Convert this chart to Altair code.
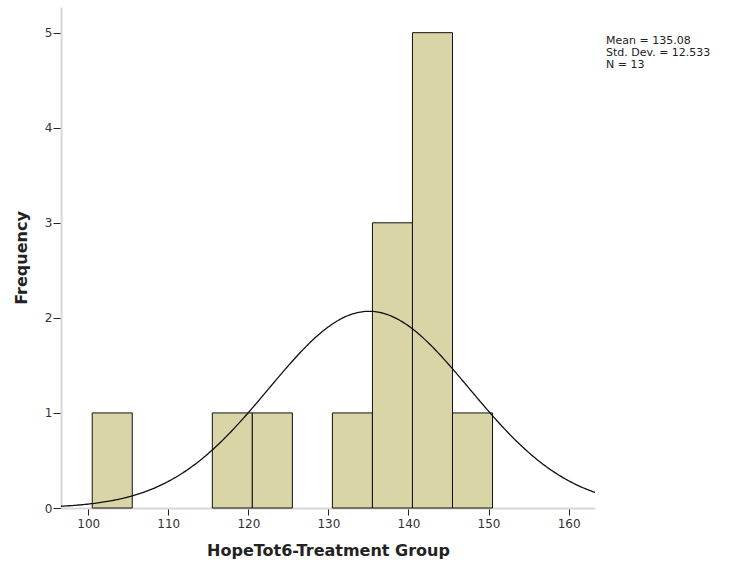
import altair as alt
import pandas as pd

# Histogram bins (start of each 5-unit bin) and their frequencies
bin_starts = [100.5, 115.5, 120.5, 130.5, 135.5, 140.5, 145.5]
counts = [1, 1, 1, 1, 3, 5, 1]
bin_width = 5

# Summary statistics of the sample
mean = 135.08
std_dev = 12.533
n = 13

x_ticks = [100, 110, 120, 130, 140, 150, 160]
y_ticks = [0, 1, 2, 3, 4, 5]
x_domain = [96.6, 163.3]
y_domain = [0, 5.27]

bars_df = pd.DataFrame({"start": bin_starts, "count": counts})
bars_df["end"] = bars_df["start"] + bin_width

FONT = "DejaVu Sans"

x_scale = alt.Scale(domain=x_domain, nice=False, zero=False)
y_scale = alt.Scale(domain=y_domain, nice=False)

bars = alt.Chart(bars_df).mark_rect(
    fill="#D9D5A7", stroke="#111111", strokeWidth=1
).encode(
    x=alt.X(
        "start:Q",
        scale=x_scale,
        axis=alt.Axis(
            values=x_ticks,
            title="HopeTot6-Treatment Group",
            titleFont=FONT,
            titleFontSize=16,
            titleFontWeight="bold",
            titleColor="#222222",
            titlePadding=13,
            labelFont=FONT,
            labelFontSize=12,
            labelColor="#333333",
            labelPadding=3,
            domainColor="#d8d8d8",
            domainWidth=2,
            tickColor="#222222",
            tickSize=7,
            grid=False,
        ),
    ),
    x2="end:Q",
    y=alt.Y(
        "count:Q",
        scale=y_scale,
        axis=alt.Axis(
            values=y_ticks,
            format="d",
            title="Frequency",
            titleFont=FONT,
            titleFontSize=16,
            titleFontWeight="bold",
            titleColor="#222222",
            titlePadding=15,
            labelFont=FONT,
            labelFontSize=12,
            labelColor="#333333",
            labelPadding=1,
            domainColor="#d8d8d8",
            domainWidth=2,
            tickColor="#222222",
            tickSize=8,
            grid=False,
        ),
    ),
    y2=alt.datum(0),
)

# Fitted normal curve scaled to frequency (N * bin width * density)
curve = alt.Chart(alt.sequence(x_domain[0], x_domain[1] + 0.1, 0.2, as_="x")).transform_calculate(
    y=f"{n} * {bin_width} * densityNormal(datum.x, {mean}, {std_dev})"
).mark_line(color="#111111", strokeWidth=1.3, clip=True).encode(
    x=alt.X("x:Q", scale=x_scale),
    y=alt.Y("y:Q", scale=y_scale),
)

stats_text = alt.Chart(pd.DataFrame({"k": [0]})).mark_text(
    text=[f"Mean = {mean:.2f}", f"Std. Dev. = {std_dev:.3f}", f"N = {n}"],
    align="left",
    baseline="top",
    font=FONT,
    fontSize=11,
    lineHeight=12,
    color="#222222",
).encode(x=alt.value(545), y=alt.value(28))

chart = alt.layer(bars, curve, stats_text).properties(
    width=534,
    height=501,
    background="white",
    autosize=alt.AutoSizeParams(type="none"),
    padding={"left": 61, "top": 7, "right": 140, "bottom": 65},
).configure_view(strokeWidth=0)

chart.save("out.html", embed_options={"renderer": "svg", "actions": False})
